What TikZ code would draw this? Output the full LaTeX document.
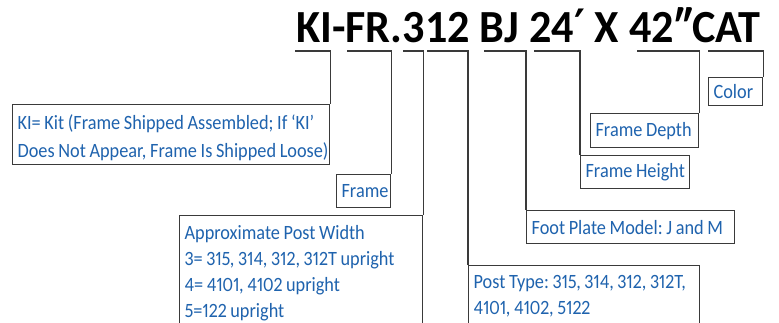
\documentclass[tikz,border=0pt]{standalone}
\usepackage{fontspec}
\setmainfont{Carlito}
\newfontfamily\tagfont{Carlito}[FakeStretch=0.9,Numbers=Proportional]
\newfontfamily\codefont{Carlito}[FakeStretch=0.96]
\newfontfamily\primefont{DejaVu Sans}[FakeStretch=0.9]
\usetikzlibrary{positioning}
\definecolor{codeBlue}{HTML}{1F63AE}
\definecolor{codeLine}{HTML}{3A3A3A}
\newcommand{\tagline}[1]{\mbox{\frenchspacing\spaceskip=0.18em plus 0.05em\relax #1}}
\newcommand{\tagsize}[1]{\tagfont\fontsize{20.3}{#1}\selectfont}
\begin{document}
\begin{tikzpicture}[x=1pt,y=-1pt,line cap=butt,line join=miter]
\useasboundingbox[fill=white] (0,0) rectangle (779,322);
\clip (0,0) rectangle (779,322);
\tikzset{lead/.style={draw=codeLine,line width=1.2pt},tagbox/.style={draw=codeLine,line width=1.2pt,text=codeBlue,font=\tagsize{26},inner xsep=5pt,align=left}}
% model code
\node[anchor=base west,inner sep=0pt,font=\codefont\bfseries\fontsize{46}{46}\selectfont] (code) at (296,42) {KI-FR.312 BJ 24{\primefont\bfseries ′} X 42″CAT};
% bracket starts under the code
\coordinate (kiA) at (295,51); \coordinate (frA) at (347,51); \coordinate (wdA) at (403,51); \coordinate (ptA) at (427,51);
\coordinate (fpA) at (484,51); \coordinate (htA) at (534,51); \coordinate (dpA) at (637,51); \coordinate (clA) at (708,51);
% boxes
\node[tagbox,anchor=north west,text width=307pt,minimum height=60pt,inner ysep=2pt,font=\tagsize{28}] (kibox) at (12,104) {\rule{0pt}{21pt}\tagline{KI= Kit (Frame Shipped Assembled; If ‘KI’}\\\tagline{Does Not Appear, Frame Is Shipped Loose)}};
\node[tagbox,anchor=north west,text width=44pt,minimum height=33pt,inner ysep=2pt] (framebox) at (336,174) {\tagline{Frame}};
\node[tagbox,anchor=north west,text width=233pt,inner ysep=10pt] (widthbox) at (179,215) {\tagline{Approximate Post Width}\\\tagline{3= 315, 314, 312, 312T upright}\\\tagline{4= 4101, 4102 upright}\\\tagline{5=122 upright}\\[4pt]};
\node[tagbox,anchor=north west,text width=221pt,inner ysep=10pt] (postbox) at (468,265) {\tagline{Post Type: 315, 314, 312, 312T,}\\\tagline{4101, 4102, 5122}\\[20pt]};
\node[tagbox,anchor=north west,text width=198pt,minimum height=33pt,inner ysep=2pt] (footbox) at (526,210) {\tagline{Foot Plate Model: J and M}};
\node[tagbox,anchor=north west,text width=99pt,minimum height=33pt,inner ysep=2pt] (heightbox) at (580,155) {\tagline{Frame Height}};
\node[tagbox,anchor=north west,text width=98pt,minimum height=34pt,inner ysep=2pt] (depthbox) at (590,113) {\tagline{Frame Depth}};
\node[tagbox,anchor=north west,text width=44pt,minimum height=28pt,inner ysep=2pt] (colorbox) at (708,77) {\tagline{Color}};
% leaders
\draw[lead] (kiA) -| (kibox.north east);
\draw[lead] (frA) -| (framebox.north east);
\draw[lead] (wdA) -| (widthbox.north east);
\draw[lead] (ptA) -| (postbox.north west);
\draw[lead] (fpA) -| (footbox.north west);
\draw[lead] (htA) -| (heightbox.north west);
\draw[lead] (dpA) -| (depthbox.north east);
\draw[lead] (clA) -| (colorbox.north east);
\end{tikzpicture}
\end{document}
